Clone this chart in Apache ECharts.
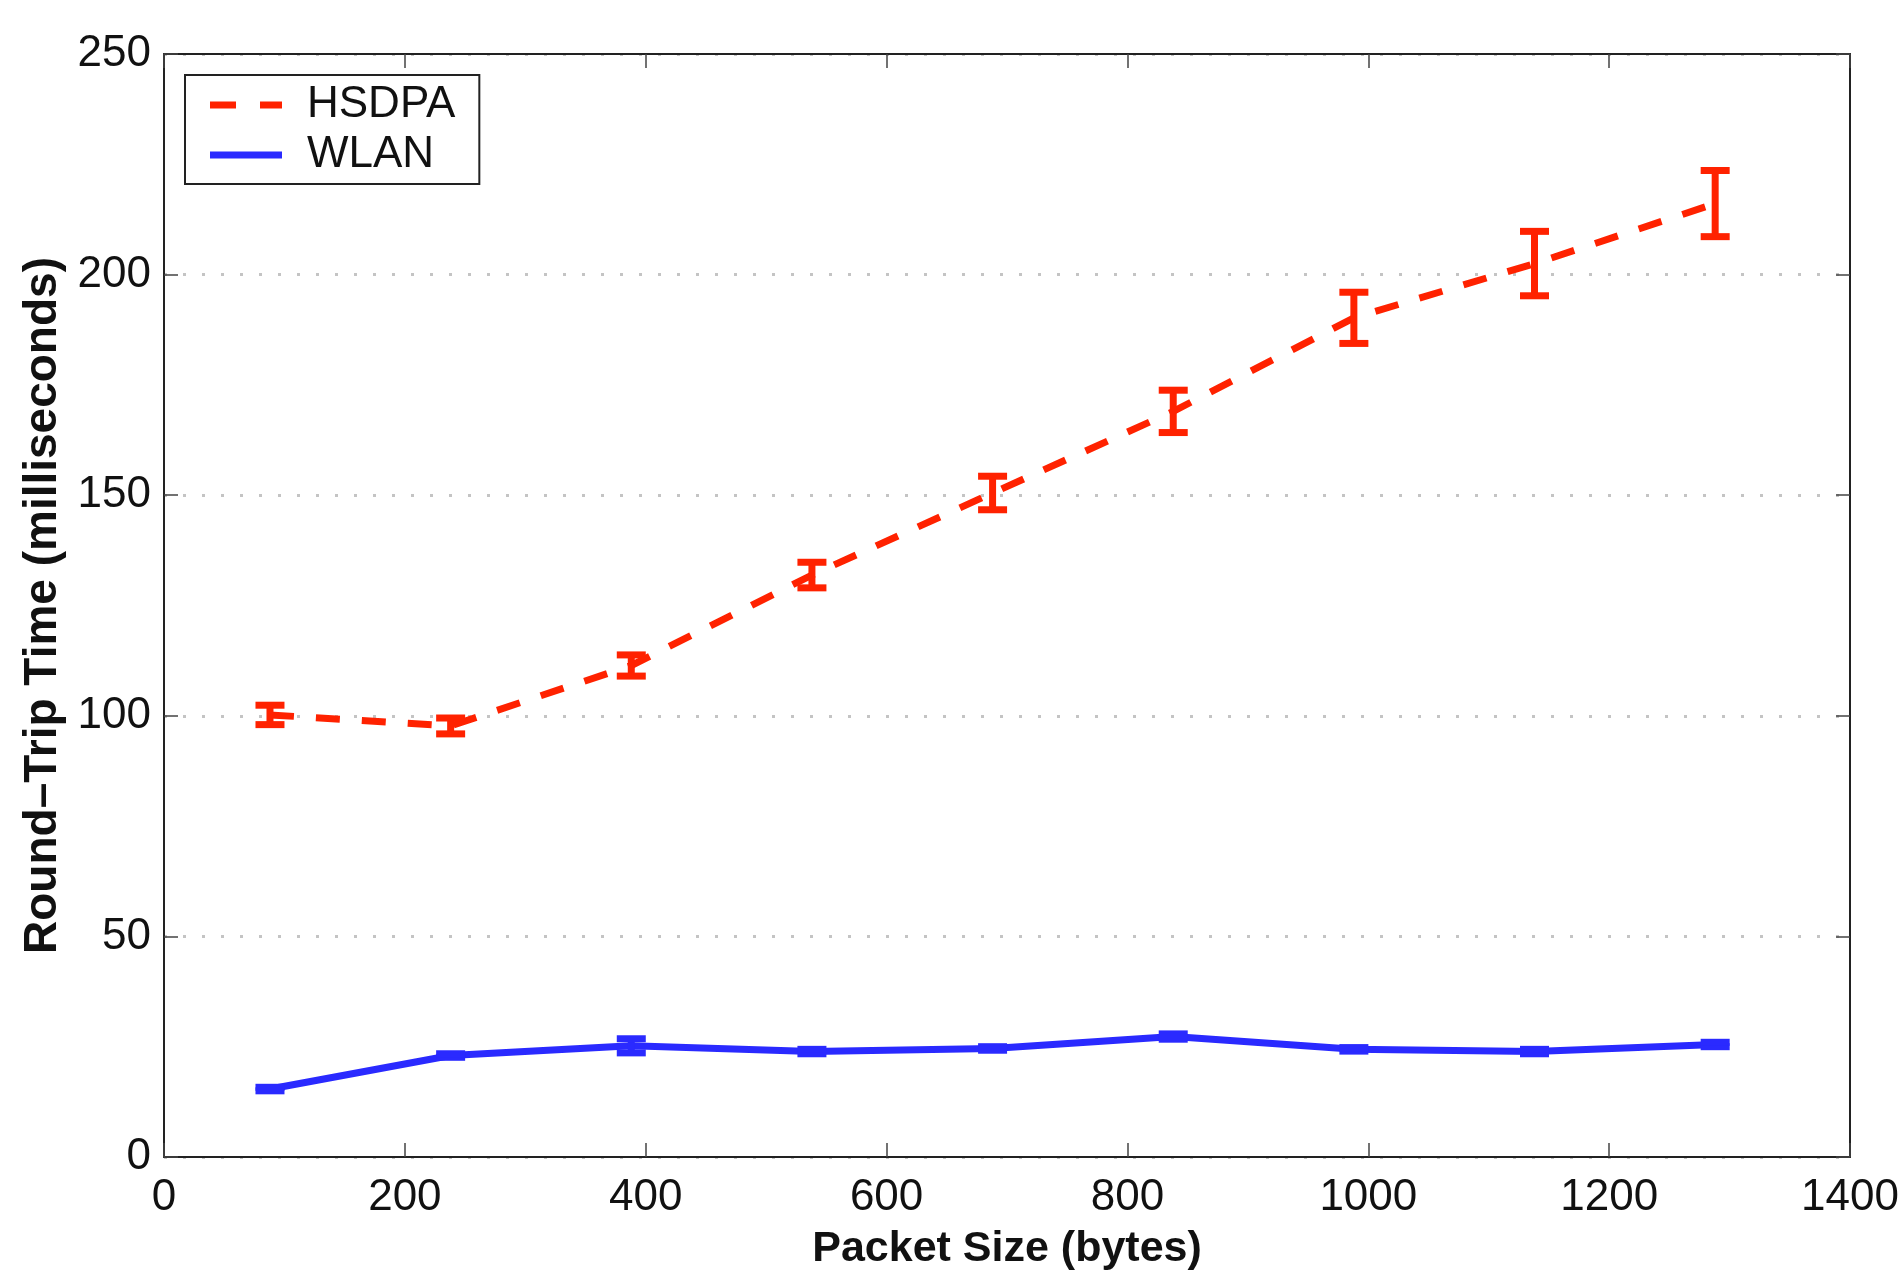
<!DOCTYPE html>
<html><head><meta charset="utf-8">
<style>html,body{margin:0;padding:0;background:#fff}#c{width:1902px;height:1276px}</style>
<script src="https://cdn.jsdelivr.net/npm/echarts@6/dist/echarts.min.js"></script>
</head><body><div id="c"></div>
<script>
// ---- data ----
const packetSizes = [88, 238, 388, 538, 688, 838, 988, 1138, 1288];
const hsdpaMean = [100.2, 97.7, 111.4, 131.9, 150.5, 169.0, 190.2, 202.5, 216.1];
const hsdpaErr  = [2.2, 1.8, 2.4, 2.9, 3.8, 4.8, 5.8, 7.3, 7.5];
const wlanMean  = [15.4, 23.0, 25.2, 23.9, 24.6, 27.3, 24.4, 23.9, 25.5];
const wlanErr   = [0.4, 0.4, 1.6, 0.5, 0.4, 0.6, 0.4, 0.5, 0.5];
const seriesNames = ['HSDPA', 'WLAN'];
const xTickLabels = [0, 200, 400, 600, 800, 1000, 1200, 1400];
const yTickLabels = [0, 50, 100, 150, 200, 250];
const xTitle = 'Packet Size (bytes)';
const yTitle = 'Round\u2013Trip Time (milliseconds)';

// ---- styles ----
const FONT = "'Liberation Sans', Arial, Helvetica, sans-serif";
const RED = '#ff2200';
const BLUE = '#2a2aff';
const LW = 7;

const chart = echarts.init(document.getElementById('c'), null, {renderer: 'canvas'});

function errRender(color) {
  return function (params, api) {
    const x = api.value(0), lo = api.value(1), hi = api.value(2);
    const pLo = api.coord([x, lo]), pHi = api.coord([x, hi]);
    const hw = 14.5;
    const style = {stroke: color, lineWidth: LW, fill: null};
    return {
      type: 'group',
      children: [
        {type: 'line', shape: {x1: pLo[0], y1: pLo[1], x2: pHi[0], y2: pHi[1]}, style: style},
        {type: 'line', shape: {x1: pLo[0] - hw, y1: pLo[1], x2: pLo[0] + hw, y2: pLo[1]}, style: style},
        {type: 'line', shape: {x1: pHi[0] - hw, y1: pHi[1], x2: pHi[0] + hw, y2: pHi[1]}, style: style}
      ]
    };
  };
}

const xMin = xTickLabels[0], xMax = xTickLabels[xTickLabels.length - 1];
const xInt = xTickLabels[1] - xTickLabels[0];
const yMin = yTickLabels[0], yMax = yTickLabels[yTickLabels.length - 1];
const yInt = yTickLabels[1] - yTickLabels[0];

const axisLineStyle = {color: '#222', width: 2};
const tickStyle = {show: true, inside: true, length: 14, lineStyle: {color: '#444', width: 1.5}};
const plainNum = function (v) { return String(v); };

const option = {
  backgroundColor: '#fff',
  animation: false,
  textStyle: {fontFamily: FONT},
  grid: {left: 164, right: 47, top: 54, bottom: 116, containLabel: false},
  legend: {
    data: [
      {name: seriesNames[0], icon: 'path://M0,0H26V7H0Z M50,0H72V7H50Z', itemStyle: {color: RED}},
      {name: seriesNames[1], icon: 'rect', itemStyle: {color: BLUE}}
    ],
    orient: 'vertical',
    left: 185,
    top: 75,
    itemWidth: 72,
    itemHeight: 7,
    itemGap: 6,
    padding: [8, 24, 7, 25],
    backgroundColor: '#fff',
    borderColor: '#222',
    borderWidth: 2,
    borderRadius: 0,
    textStyle: {fontSize: 44, lineHeight: 44, color: '#111', fontFamily: FONT, padding: [0, 0, 0, 20]},
    selectedMode: false
  },
  xAxis: [
    {
      type: 'value', position: 'bottom', min: xMin, max: xMax, interval: xInt,
      axisLine: {show: true, onZero: false, lineStyle: axisLineStyle},
      axisTick: tickStyle,
      axisLabel: {fontSize: 44, color: '#111', margin: 19, fontFamily: FONT, formatter: plainNum},
      splitLine: {show: false},
      name: xTitle, nameLocation: 'middle', nameGap: 71,
      nameTextStyle: {fontSize: 43, fontWeight: 'bold', color: '#111', fontFamily: FONT}
    },
    {
      type: 'value', position: 'top', min: xMin, max: xMax, interval: xInt,
      axisLine: {show: true, onZero: false, lineStyle: axisLineStyle},
      axisTick: tickStyle,
      axisLabel: {show: false},
      splitLine: {show: false}
    }
  ],
  yAxis: [
    {
      type: 'value', position: 'left', min: yMin, max: yMax, interval: yInt,
      axisLine: {show: true, onZero: false, lineStyle: axisLineStyle},
      axisTick: tickStyle,
      axisLabel: {fontSize: 44, color: '#111', margin: 13, fontFamily: FONT, formatter: plainNum},
      splitLine: {show: true, lineStyle: {color: '#c4c4c4', width: 3, type: [3, 16]}},
      name: yTitle, nameLocation: 'middle', nameGap: 92, nameRotate: 90,
      nameTextStyle: {fontSize: 46, fontWeight: 'bold', color: '#111', fontFamily: FONT}
    },
    {
      type: 'value', position: 'right', min: yMin, max: yMax, interval: yInt,
      axisLine: {show: true, onZero: false, lineStyle: axisLineStyle},
      axisTick: tickStyle,
      axisLabel: {show: false},
      splitLine: {show: false}
    }
  ],
  series: [
    {
      name: seriesNames[0], type: 'line', xAxisIndex: 0, yAxisIndex: 0,
      data: packetSizes.map((x, i) => [x, hsdpaMean[i]]),
      symbol: 'none', color: RED, itemStyle: {color: RED},
      lineStyle: {color: RED, width: LW, type: [24, 22], cap: 'butt'},
      z: 3
    },
    {
      name: seriesNames[1], type: 'line', xAxisIndex: 0, yAxisIndex: 0,
      data: packetSizes.map((x, i) => [x, wlanMean[i]]),
      symbol: 'none', color: BLUE, itemStyle: {color: BLUE},
      lineStyle: {color: BLUE, width: LW, type: 'solid'},
      z: 3
    },
    {
      name: seriesNames[0] + ' error', type: 'custom', xAxisIndex: 0, yAxisIndex: 0,
      renderItem: errRender(RED),
      encode: {x: 0, y: [1, 2]},
      data: packetSizes.map((x, i) => [x, hsdpaMean[i] - hsdpaErr[i], hsdpaMean[i] + hsdpaErr[i]]),
      z: 4, silent: true
    },
    {
      name: seriesNames[1] + ' error', type: 'custom', xAxisIndex: 0, yAxisIndex: 0,
      renderItem: errRender(BLUE),
      encode: {x: 0, y: [1, 2]},
      data: packetSizes.map((x, i) => [x, wlanMean[i] - wlanErr[i], wlanMean[i] + wlanErr[i]]),
      z: 4, silent: true
    }
  ]
};
chart.setOption(option);
</script>
</body></html>
